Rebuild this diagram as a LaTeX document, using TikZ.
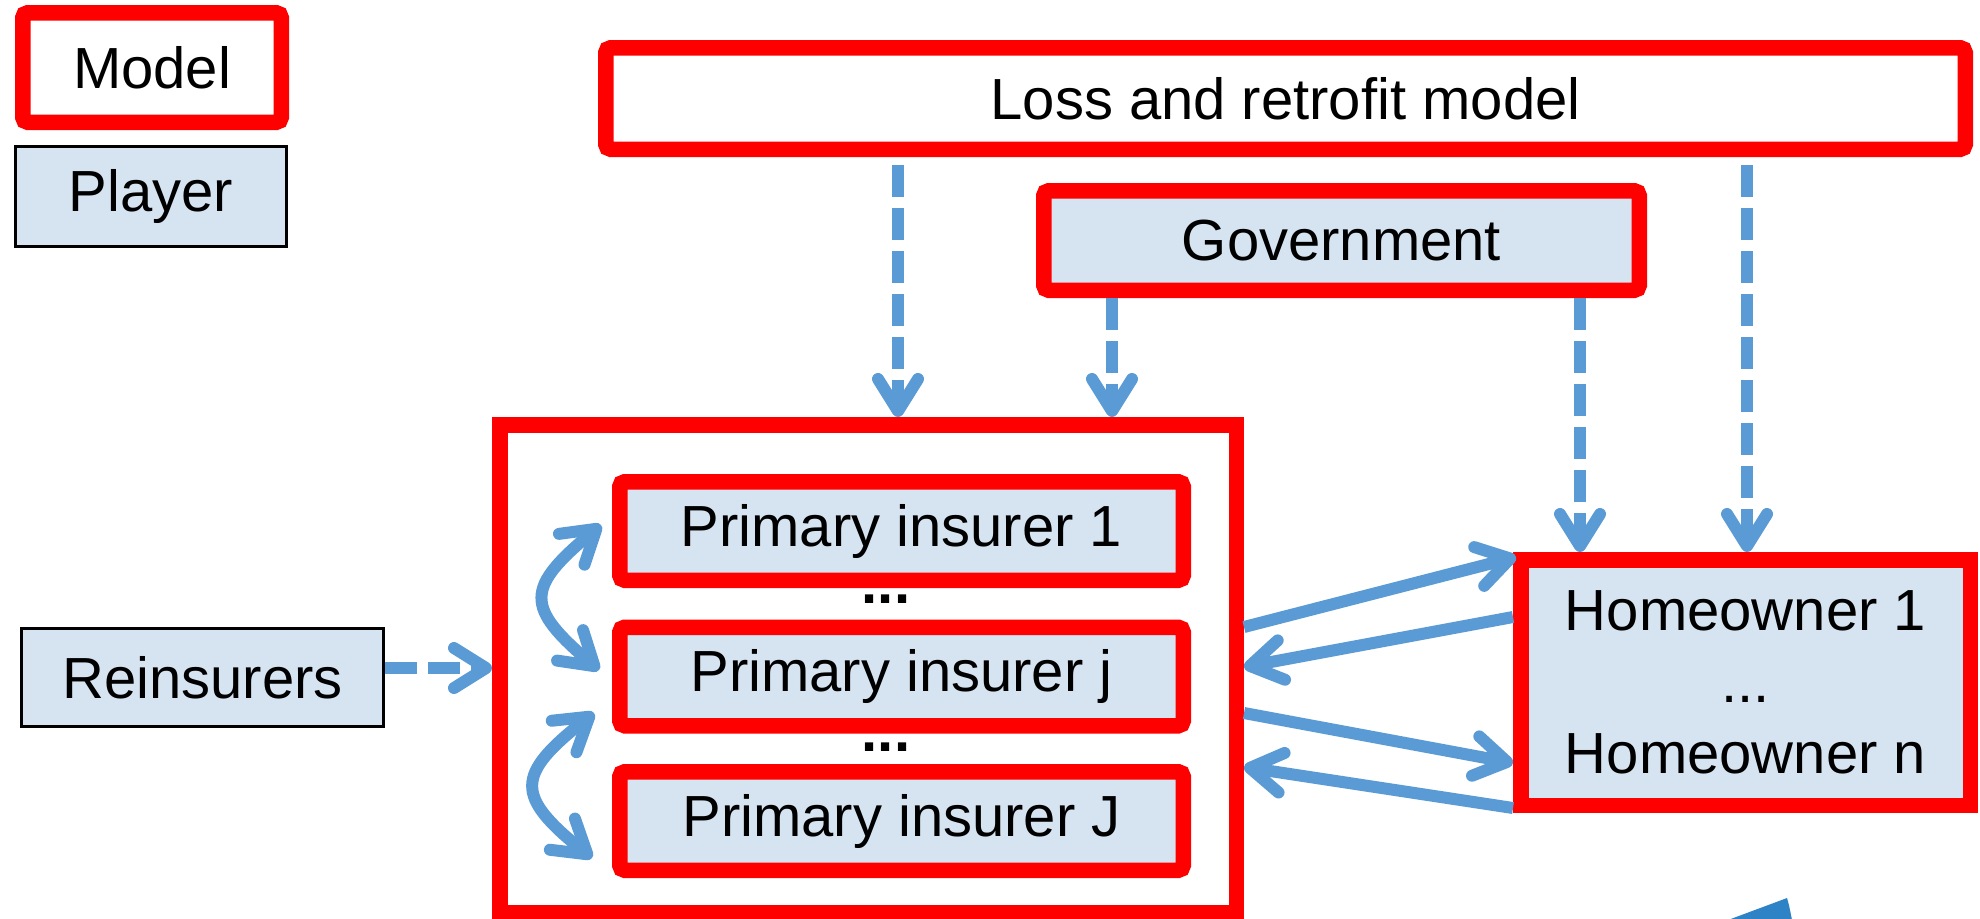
\documentclass[tikz,border=0pt]{standalone}
\usepackage{fontspec}
\setmainfont{Liberation Sans}
\usetikzlibrary{arrows.meta}
\definecolor{mred}{RGB}{255,0,0}
\definecolor{pfill}{RGB}{214,228,242}
\definecolor{ablue}{RGB}{91,155,213}
\definecolor{dblue}{RGB}{46,131,198}
\tikzset{
  txt/.style={font=\fontsize{29pt}{35.75pt}\selectfont, text=black},
  modelbox/.style={txt, draw=mred, line width=7.75pt, inner sep=0pt, align=center},
  roundbox/.style={modelbox, rounded corners=2.5pt},
  playerbox/.style={txt, draw=black, line width=1.5pt, fill=pfill, inner sep=0pt},
  flow/.style={draw=ablue, line width=6pt, -{Straight Barb[length=16pt,width=20pt,round]}},
  dflow/.style={flow, dash pattern=on 16pt off 5.5pt},
  dflowboth/.style={draw=ablue, line width=6pt, {Straight Barb[length=16pt,width=20pt,round]}-{Straight Barb[length=16pt,width=20pt,round]}},
}
\begin{document}
\begin{tikzpicture}[x=0.5pt,y=-0.5pt]
\useasboundingbox (0,0) rectangle (1980,918);
\clip (0,0) rectangle (1980,918);
\fill[white] (0,0) rectangle (1980,918);

% legend
\node[roundbox, fill=white, minimum width=129.25pt, minimum height=54.75pt] (legmodel) at (152,67.5) {Model};
\node[playerbox, minimum width=135.5pt, minimum height=50pt] (legplayer) at (151,196.5) {Player};

% main boxes
\node[roundbox, fill=white, minimum width=679.75pt, minimum height=50.75pt] (loss) at (1285.5,98.5) {Loss and retrofit model};
\node[roundbox, fill=pfill, minimum width=297.75pt, minimum height=49.75pt] (gov) at (1341.5,240.5) {Government};
\node[modelbox, fill=white, minimum width=368.25pt, minimum height=243.75pt] (big) at (868,668.5) {};
\node[roundbox, fill=pfill, minimum width=281.75pt, minimum height=49.25pt] (pi1) at (901.5,531) {Primary insurer 1};
\node[roundbox, fill=pfill, minimum width=281.75pt, minimum height=49.25pt] (pij) at (901.5,676.5) {Primary insurer j};
\node[roundbox, fill=pfill, minimum width=281.75pt, minimum height=49.25pt] (piJ) at (901.5,821) {Primary insurer J};
\node[txt, anchor=base, inner sep=0pt] (dots1) at (886,603) {\textbf{...}};
\node[txt, anchor=base, inner sep=0pt] (dots2) at (886,751) {\textbf{...}};
\node[playerbox, minimum width=181pt, minimum height=49pt] (rein) at (202.5,677.5) {Reinsurers};
\node[modelbox, fill=pfill, minimum width=224.75pt, minimum height=122.75pt] (home) at (1745.5,682.5) {Homeowner 1\\...\\Homeowner n};

% helper coordinates
\coordinate (xa) at (898,0);
\coordinate (xb) at (1112,0);
\coordinate (xc) at (1580,0);
\coordinate (xd) at (1747,0);
\coordinate (yr) at (0,668);
\coordinate (y1) at (0,627);
\coordinate (y2a) at (0,617);
\coordinate (y2b) at (0,667);
\coordinate (y3a) at (0,713);
\coordinate (y3b) at (0,763);
\coordinate (y4a) at (0,808);
\coordinate (y4b) at (0,767);

% dashed influences
\draw[dflow, shorten <=4pt] (loss.south -| xa) -- (big.north -| xa);
\draw[dflow] (gov.south -| xb) -- (big.north -| xb);
\draw[dflow] (gov.south -| xc) -- (home.north -| xc);
\draw[dflow, shorten <=4pt] (loss.south -| xd) -- (home.north -| xd);
\draw[dflow] (rein.east |- yr) -- (big.west |- yr);

% exchanges with homeowners
\draw[flow] (big.east |- y1) -- ([shift={(3,5)}]home.north west);
\draw[flow] (home.west |- y2a) -- (big.east |- y2b);
\draw[flow] (big.east |- y3a) -- (home.west |- y3b);
\draw[flow] (home.west |- y4a) -- (big.east |- y4b);

% competition among insurers
\draw[dflowboth] ([shift={(-11,-6)}]pi1.west) .. controls (525,588) and (525,607) .. ([shift={(-13,-6.5)}]pij.west);
\draw[dflowboth] ([shift={(-18,36.5)}]pij.west) .. controls (515,775) and (515,796) .. ([shift={(-20,37)}]piJ.west);

% fragment at bottom right
\fill[dblue] (1728,920) -- (1787,898) .. controls (1789,905) .. (1792,920) -- cycle;
\end{tikzpicture}
\end{document}
